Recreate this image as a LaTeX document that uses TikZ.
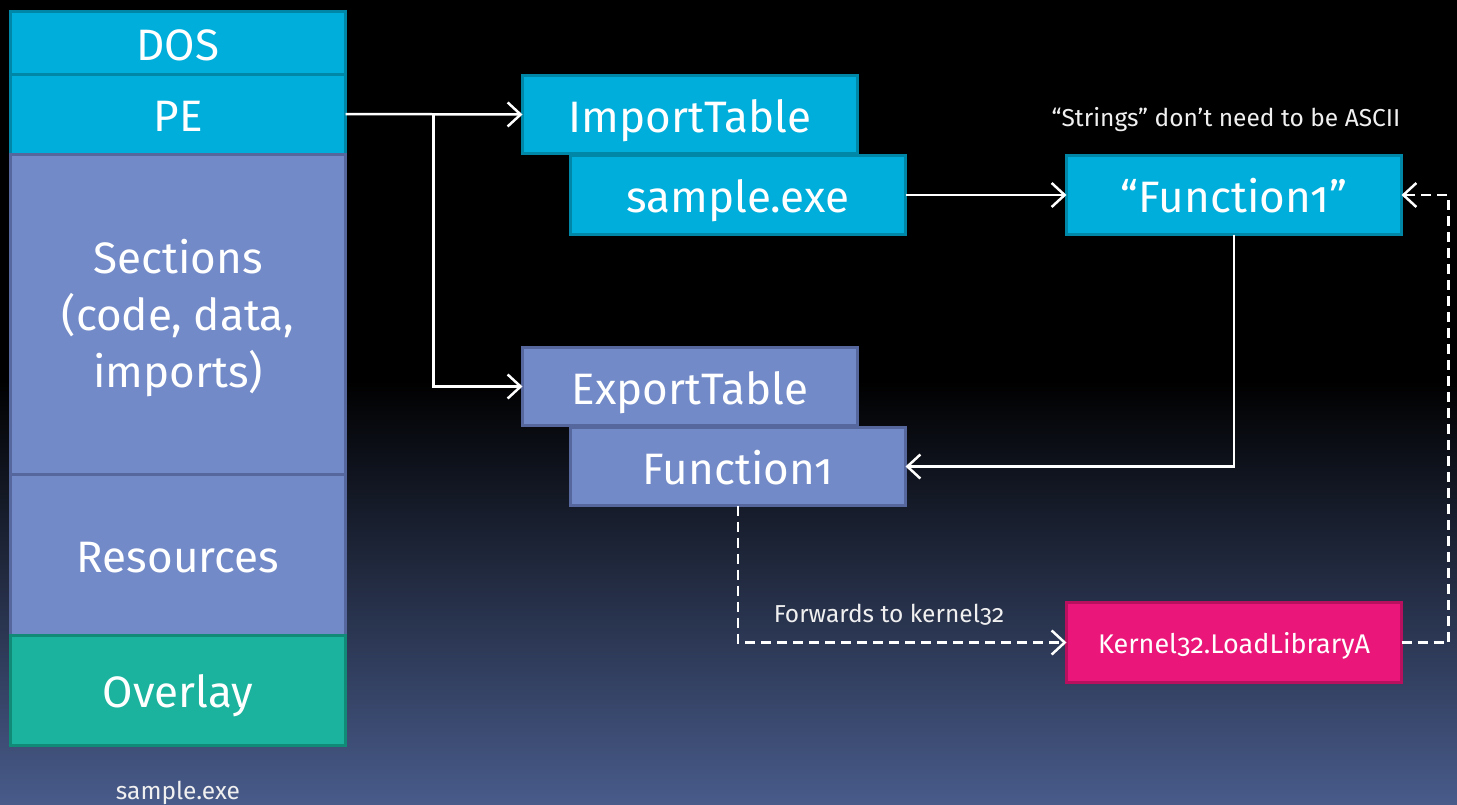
\documentclass[tikz,border=0pt]{standalone}
\usepackage{fontspec}
\setmainfont[Numbers=OldStyle]{Fira Sans}
\usetikzlibrary{arrows.meta}
\definecolor{cyanf}{HTML}{00AEDB}
\definecolor{cyand}{HTML}{0086A6}
\definecolor{lavf}{HTML}{728AC8}
\definecolor{lavd}{HTML}{55679C}
\definecolor{tealf}{HTML}{1BB39D}
\definecolor{teald}{HTML}{128A78}
\definecolor{pinkf}{HTML}{EA1679}
\definecolor{pinkd}{HTML}{B80F5E}
\definecolor{bgbot}{HTML}{485B8A}
\tikzset{
  box/.style={rectangle, anchor=north west, inner sep=0pt, outer sep=0pt, line width=3pt,
    text=white, font=\fontsize{44}{57}\selectfont},
  oneline/.style={text height=44pt, text depth=8.8pt},
  cbox/.style={box, oneline, fill=cyanf, draw=cyand},
  lbox/.style={box, fill=lavf, draw=lavd},
  lboxo/.style={lbox, oneline},
  tbox/.style={box, oneline, fill=tealf, draw=teald},
  pbox/.style={box, fill=pinkf, draw=pinkd, font=\fontsize{27}{32}\selectfont, text height=27pt, text depth=5.4pt},
  conn/.style={draw=white, line width=2.5pt, -{Straight Barb[length=13pt,width=24pt,line width=2.5pt]}},
  dconn/.style={conn, dash pattern=on 10pt off 6pt},
  note/.style={text=white!94!black, font=\fontsize{24.5}{29}\selectfont, inner sep=0pt}
}
\begin{document}
\begin{tikzpicture}[x=1pt,y=-1pt]
\useasboundingbox (0,0) rectangle (1457,804);
\fill[black] (0,0) rectangle (1457,804);
\shade[top color=black, bottom color=bgbot] (0,380) rectangle (1457,804);
% left column
\node[cbox, minimum width=335pt, minimum height=62.5pt] (dos) at (10.5,11.5) {DOS};
\node[cbox, minimum width=335pt, minimum height=80pt] (pe) at (10.5,74) {PE};
\node[lbox, align=center, minimum width=335pt, minimum height=320pt] (sec) at (10.5,154) {\rule{0pt}{0.95em}Sections\\(code, data,\\imports)};
\node[lboxo, minimum width=335pt, minimum height=161pt] (res) at (10.5,474) {Resources};
\node[tbox, minimum width=335pt, minimum height=110.5pt] (ovl) at (10.5,635) {Overlay};
\node[note] (fname) at (178,793) {sample.exe};
% tables
\node[cbox, minimum width=335pt, minimum height=78pt] (impt) at (522.5,75.5) {ImportTable};
\node[cbox, minimum width=335pt, minimum height=79pt] (samp) at (570.5,155.5) {sample.exe};
\node[cbox, minimum width=335pt, minimum height=79pt] (fq) at (1066.5,155.5) {“Function1”};
\node[lboxo, minimum width=335pt, minimum height=78pt] (expt) at (522.5,347.5) {ExportTable};
\node[lboxo, minimum width=335pt, minimum height=78pt] (fone) at (570.5,427.5) {Function1};
\node[pbox, minimum width=335pt, minimum height=80pt] (k32) at (1066.5,602.5) {Kernel32.LoadLibraryA};
% notes
\node[note] (strnote) at (1226,120) {“Strings” don’t need to be ASCII};
\node[note] (fwdnote) at (889,615) {Forwards to kernel32};
% connectors
\draw[conn] (pe.east) -- (impt.west);
\draw[conn] (pe.east) -- ++(88,0) |- (expt.west);
\draw[conn] (samp.east) -- (fq.west);
\draw[conn] (fq.south) |- (fone.east);
\draw[dconn] (fone.south) |- (k32.west);
\draw[dconn] (k32.east) -- ++(47,0) |- (fq.east);
\end{tikzpicture}
\end{document}
